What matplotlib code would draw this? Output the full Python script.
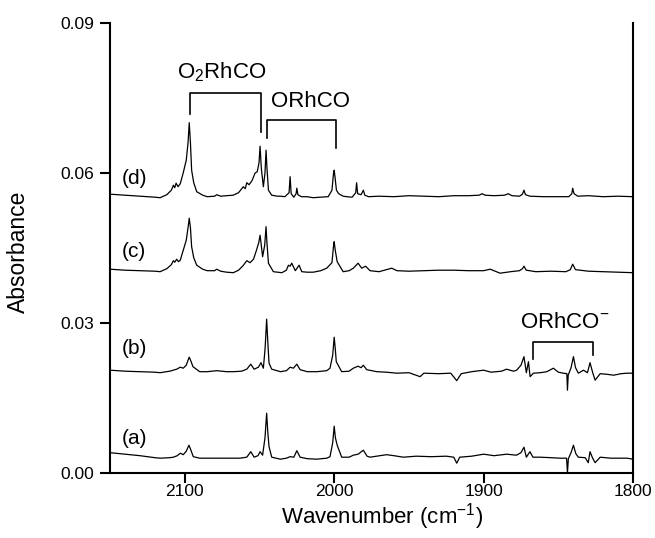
import matplotlib
matplotlib.use("Agg")
import matplotlib.pyplot as plt

plt.rcParams['font.family'] = ['Liberation Sans', 'DejaVu Sans']
plt.rcParams['mathtext.fontset'] = 'custom'
plt.rcParams['mathtext.rm'] = 'Liberation Sans'

# ---- spectra (wavenumber in cm-1, absorbance) ----
wn_d = [2150, 2140, 2130, 2120, 2116.5, 2112, 2109, 2107.6, 2106.7, 2105.8, 2104.5, 2103, 2101, 2099,
        2097.8, 2097, 2096.2, 2095.4, 2094, 2092, 2088, 2085, 2080, 2078.6, 2076, 2072, 2067.6, 2064,
        2060.8, 2059.5, 2058.5, 2057, 2055, 2053, 2051.5, 2050.3, 2049.6, 2048.8, 2047.4, 2046.3, 2045.6,
        2045, 2044, 2041.8, 2038, 2036, 2033, 2030.2, 2029.5, 2028.8, 2027, 2025.5, 2025, 2024.3, 2022,
        2018.4, 2014, 2009.5, 2004, 2001.5, 2000.4, 2000, 1999.4, 1998.5, 1997, 1994, 1991.6, 1988,
        1985.6, 1985, 1984.3, 1982, 1980.5, 1979.5, 1977, 1970, 1960, 1950, 1940, 1930, 1920, 1910,
        1903, 1901, 1899, 1893, 1886, 1883.6, 1881, 1876, 1874, 1873, 1872, 1869, 1860, 1850, 1843,
        1841, 1840.4, 1839.5, 1837, 1830, 1820, 1810, 1800]
abs_d = [0.0557, 0.0555, 0.0553, 0.0551, 0.0550, 0.0556, 0.0565, 0.0575, 0.0570, 0.0579, 0.0572, 0.0578,
         0.0600, 0.0625, 0.0660, 0.0700, 0.0660, 0.0605, 0.0580, 0.0562, 0.0555, 0.0552, 0.0553, 0.0556,
         0.0553, 0.0554, 0.0555, 0.0560, 0.0572, 0.0568, 0.0580, 0.0576, 0.0584, 0.0599, 0.0602, 0.0620,
         0.0653, 0.0610, 0.0572, 0.0600, 0.0645, 0.0610, 0.0565, 0.0555, 0.0553, 0.0553, 0.0552, 0.0560,
         0.0592, 0.0558, 0.0551, 0.0558, 0.0569, 0.0556, 0.0552, 0.0552, 0.0550, 0.0551, 0.0552, 0.0565,
         0.0600, 0.0605, 0.0590, 0.0565, 0.0558, 0.0553, 0.0552, 0.0551, 0.0560, 0.0580, 0.0558, 0.0556,
         0.0565, 0.0555, 0.0552, 0.0553, 0.0552, 0.0554, 0.0553, 0.0552, 0.0554, 0.0554, 0.0555, 0.0558,
         0.0555, 0.0554, 0.0555, 0.0558, 0.0554, 0.0553, 0.0557, 0.0565, 0.0556, 0.0553, 0.0552, 0.0552,
         0.0552, 0.0558, 0.0569, 0.0558, 0.0553, 0.0554, 0.0552, 0.0553, 0.0552]

wn_c = [2150, 2140, 2130, 2120, 2116.5, 2112, 2109, 2107.6, 2106.7, 2105.4, 2104.2, 2103, 2101, 2099,
        2097.8, 2097, 2096.2, 2095.4, 2094, 2092, 2088, 2085, 2080, 2078.6, 2076, 2072, 2067.5, 2064,
        2061, 2058.5, 2056.3, 2054, 2052, 2050.5, 2049.6, 2048.8, 2047.9, 2046.5, 2045.6, 2045, 2044,
        2040.7, 2035, 2032, 2030.6, 2029.5, 2028.4, 2026, 2023.5, 2021.7, 2018, 2014, 2009, 2005, 2001.5,
        2000.4, 2000, 1999.3, 1998, 1994, 1990, 1987.2, 1984, 1981.6, 1979, 1976, 1970, 1961.5, 1958,
        1950, 1940, 1930, 1920, 1910, 1900, 1895.6, 1889, 1882, 1876, 1874, 1873, 1871.5, 1865, 1855,
        1845, 1842, 1840.4, 1838.5, 1835.4, 1830, 1820, 1810, 1800]
abs_c = [0.0407, 0.0405, 0.0404, 0.0403, 0.0402, 0.0408, 0.0416, 0.0424, 0.0421, 0.0427, 0.0422, 0.0425,
         0.0445, 0.0465, 0.0490, 0.0509, 0.0490, 0.0452, 0.0430, 0.0415, 0.0407, 0.0404, 0.0404, 0.0407,
         0.0403, 0.0401, 0.0400, 0.0405, 0.0414, 0.0424, 0.0420, 0.0427, 0.0445, 0.0460, 0.0475, 0.0455,
         0.0432, 0.0455, 0.0492, 0.0460, 0.0419, 0.0402, 0.0400, 0.0405, 0.0415, 0.0413, 0.0419, 0.0404,
         0.0415, 0.0402, 0.0401, 0.0401, 0.0404, 0.0409, 0.0420, 0.0455, 0.0462, 0.0445, 0.0422, 0.0402,
         0.0404, 0.0409, 0.0419, 0.0409, 0.0413, 0.0404, 0.0402, 0.0409, 0.0404, 0.0403, 0.0404, 0.0405,
         0.0405, 0.0404, 0.0404, 0.0407, 0.0399, 0.0402, 0.0404, 0.0408, 0.0413, 0.0405, 0.0402, 0.0403,
         0.0402, 0.0406, 0.0417, 0.0406, 0.0405, 0.0403, 0.0402, 0.0401, 0.0400]

wn_b = [2150, 2140, 2130, 2120, 2116.5, 2110, 2105.4, 2103, 2101, 2099, 2097.8, 2097, 2096, 2094.5, 2090,
        2085, 2078.6, 2072, 2067.5, 2062, 2058.5, 2055.8, 2053.6, 2050.7, 2049, 2047.4, 2046.2, 2045.2,
        2044.4, 2043.6, 2041.8, 2036, 2032, 2029.5, 2027.3, 2025, 2022.8, 2018, 2011.7, 2005, 2002.8,
        2001, 2000, 1999.2, 1998.6, 1995, 1990, 1987.2, 1984, 1982, 1980.5, 1978.2, 1971.5, 1965, 1958,
        1950, 1942.5, 1940, 1930, 1922, 1918, 1915, 1908, 1900, 1895, 1888, 1884.6, 1880, 1877.9, 1875,
        1873, 1871.4, 1870, 1868.9, 1866.7, 1862, 1857.7, 1853.3, 1850, 1846.6, 1844.3, 1843.9, 1843.4,
        1841.5, 1839.9, 1838.5, 1836.6, 1833.2, 1830.5, 1828.8, 1827, 1825.4, 1822, 1818, 1813, 1808,
        1804, 1800]
abs_b = [0.0205, 0.0203, 0.0202, 0.0201, 0.0200, 0.0203, 0.0207, 0.0211, 0.0209, 0.0215, 0.0225, 0.0231,
         0.0224, 0.0212, 0.0202, 0.0202, 0.0204, 0.0202, 0.0202, 0.0203, 0.0207, 0.0217, 0.0207, 0.0211,
         0.0220, 0.0209, 0.0250, 0.0307, 0.0260, 0.0219, 0.0207, 0.0202, 0.0204, 0.0211, 0.0209, 0.0217,
         0.0206, 0.0202, 0.0202, 0.0204, 0.0209, 0.0235, 0.0271, 0.0245, 0.0222, 0.0202, 0.0203, 0.0209,
         0.0213, 0.0210, 0.0215, 0.0206, 0.0202, 0.0201, 0.0199, 0.0200, 0.0192, 0.0199, 0.0198, 0.0199,
         0.0184, 0.0198, 0.0202, 0.0205, 0.0201, 0.0203, 0.0207, 0.0203, 0.0205, 0.0215, 0.0232, 0.0200,
         0.0222, 0.0192, 0.0199, 0.0200, 0.0202, 0.0209, 0.0201, 0.0199, 0.0198, 0.0165, 0.0195, 0.0210,
         0.0232, 0.0210, 0.0199, 0.0205, 0.0200, 0.0220, 0.0200, 0.0185, 0.0198, 0.0197, 0.0195, 0.0198,
         0.0199, 0.0199]

wn_a = [2150, 2140, 2130, 2120, 2116.5, 2110, 2107.6, 2105, 2103, 2101, 2099, 2097.2, 2096, 2094.3, 2090,
        2085, 2078.6, 2070, 2063, 2058.5, 2055.8, 2053.6, 2051, 2049.6, 2047.9, 2046.3, 2045.2, 2044.4,
        2043.6, 2041.8, 2036, 2032, 2029.5, 2027, 2025, 2022.8, 2018, 2011.7, 2005, 2002.8, 2001, 2000,
        1999.2, 1998, 1995, 1990, 1987.2, 1984, 1980.5, 1978, 1976, 1965, 1960, 1953.7, 1945, 1935, 1925,
        1920, 1918, 1916, 1908, 1900, 1893, 1884.6, 1878, 1875, 1873, 1871.4, 1869, 1867, 1862.2, 1855,
        1848.8, 1844.5, 1843.9, 1843.3, 1841.5, 1839.9, 1838.3, 1836.6, 1832, 1830, 1828.8, 1827.2,
        1825.4, 1822, 1815, 1804, 1800]
abs_a = [0.0040, 0.0037, 0.0034, 0.0030, 0.0029, 0.0030, 0.0031, 0.0034, 0.0039, 0.0036, 0.0043, 0.0055,
         0.0046, 0.0032, 0.0029, 0.0029, 0.0029, 0.0029, 0.0029, 0.0031, 0.0042, 0.0031, 0.0034, 0.0042,
         0.0035, 0.0070, 0.0119, 0.0080, 0.0052, 0.0031, 0.0027, 0.0029, 0.0032, 0.0031, 0.0044, 0.0031,
         0.0028, 0.0027, 0.0029, 0.0032, 0.0060, 0.0093, 0.0070, 0.0055, 0.0031, 0.0031, 0.0035, 0.0037,
         0.0045, 0.0033, 0.0031, 0.0036, 0.0034, 0.0031, 0.0033, 0.0032, 0.0033, 0.0031, 0.0019, 0.0031,
         0.0033, 0.0037, 0.0034, 0.0037, 0.0035, 0.0040, 0.0051, 0.0031, 0.0042, 0.0031, 0.0031, 0.0030,
         0.0029, 0.0029, 0.0000, 0.0028, 0.0040, 0.0055, 0.0038, 0.0031, 0.0030, 0.0020, 0.0042, 0.0030,
         0.0020, 0.0031, 0.0029, 0.0029, 0.0027]

trace_labels = ['(a)', '(b)', '(c)', '(d)']
label_y = [0.0069, 0.0249, 0.0442, 0.0589]
y_ticks = [0.00, 0.03, 0.06, 0.09]
x_ticks = [2100, 2000, 1900, 1800]

# ---- figure ----
fig = plt.figure(figsize=(6.55, 5.38), dpi=100)
ax = fig.add_axes([0.168, 0.1214, 0.7985, 0.8364])

for wn, ab in [(wn_a, abs_a), (wn_b, abs_b), (wn_c, abs_c), (wn_d, abs_d)]:
    ax.plot(wn, ab, color='black', lw=0.9)

for lab, yy in zip(trace_labels, label_y):
    ax.text(2142, yy, lab, fontsize=15, ha='left', va='center')

# band assignment brackets
ax.plot([2096.5, 2096.5, 2049.1, 2049.1], [0.0717, 0.0759, 0.0759, 0.0682], color='black', lw=1.2)
ax.text(2075, 0.0802, r'O$_2$RhCO', fontsize=16, ha='center', va='center')

ax.plot([2044.7, 2044.7, 1999, 1999], [0.0669, 0.0705, 0.0705, 0.0649], color='black', lw=1.2)
ax.text(2016, 0.0742, 'ORhCO', fontsize=16, ha='center', va='center')

ax.plot([1867, 1867, 1826.9, 1826.9], [0.0227, 0.0262, 0.0262, 0.0235], color='black', lw=1.2)
ax.text(1845.5, 0.0300, r'ORhCO$^{-}$', fontsize=16, ha='center', va='center')

ax.set_xlim(2150, 1800)
ax.set_ylim(0, 0.09)
ax.set_xticks(x_ticks)
ax.set_yticks(y_ticks)
ax.set_yticklabels([f'{t:.2f}' for t in y_ticks])

ax.spines['top'].set_visible(False)
for s in ['left', 'bottom', 'right']:
    ax.spines[s].set_linewidth(1.5)
ax.tick_params(direction='out', length=7.5, width=1.5, labelsize=12.5)
ax.tick_params(axis='x', pad=1)
ax.tick_params(axis='y', pad=4)

ax.set_xlabel('Wavenumber (cm$^{-1}$)', fontsize=16)
ax.set_ylabel('Absorbance', fontsize=16.5)
ax.xaxis.set_label_coords(0.52, -0.063)
ax.yaxis.set_label_coords(-0.153, 0.49)

fig.savefig('out.png', dpi=100)
